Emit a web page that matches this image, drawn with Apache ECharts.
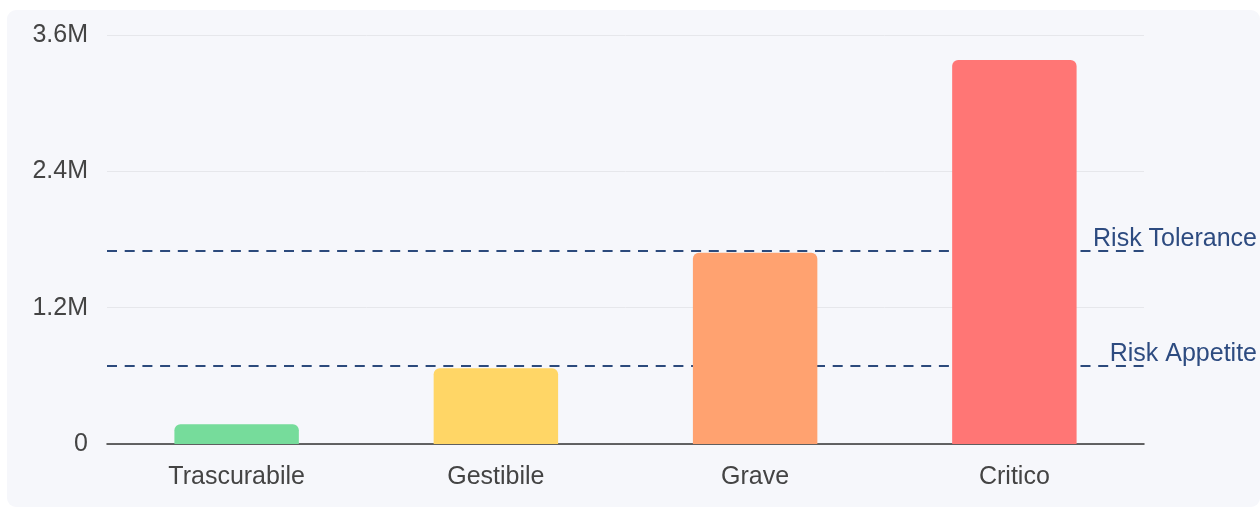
<!DOCTYPE html>
<html>
<head>
<meta charset="utf-8">
<script src="https://cdn.jsdelivr.net/npm/echarts@6/dist/echarts.min.js"></script>
<style>
  html, body { margin: 0; padding: 0; background: #ffffff; overflow: hidden; }
  #root {
    position: absolute; left: 7px; top: 10px;
    width: 1253px; height: 497px;
    background: #f6f7fb; border-radius: 9px;
  }
</style>
</head>
<body>
<div id="root"></div>
<script>
// livelli di rischio e valori
var categories = ['Trascurabile', 'Gestibile', 'Grave', 'Critico'];
var values = [173000, 666000, 1684000, 3380000];
var barColors = ['#76dc9b', '#ffd666', '#ffa270', '#ff7675'];
var thresholdNames = ['Risk Tolerance', 'Risk Appetite'];
var thresholdValues = [1700000, 687000];

var font = 'Liberation Sans, Arial, Helvetica, sans-serif';
var dom = document.getElementById('root');
var myChart = echarts.init(dom, null, { renderer: 'canvas' });

var option = {
  animation: false,
  grid: { left: 100, top: 25, width: 1037, height: 409, containLabel: false },
  xAxis: {
    type: 'category',
    data: categories,
    axisTick: { show: false },
    axisLine: { lineStyle: { color: '#333', width: 1.5 } },
    axisLabel: { color: '#444', fontSize: 25, fontFamily: font, margin: 21 }
  },
  yAxis: {
    type: 'value',
    min: 0,
    max: 3600000,
    interval: 1200000,
    axisLine: { show: false },
    axisTick: { show: false },
    splitLine: { lineStyle: { color: '#e6e7eb', width: 1 } },
    axisLabel: {
      color: '#444', fontSize: 25, fontFamily: font, margin: 19,
      formatter: function (v) { return v === 0 ? '0' : (v / 1e6) + 'M'; }
    }
  },
  series: [
    {
      type: 'bar',
      barWidth: '48%',
      z: 3,
      data: values.map(function (v, i) {
        return { value: v, itemStyle: { color: barColors[i], borderRadius: [6, 6, 0, 0] } };
      }),
      // soglie sotto le barre
      markLine: {
        z: 1,
        silent: true,
        symbol: 'none',
        lineStyle: { color: '#2c4a7c', width: 2, type: [10, 7.7] },
        label: {
          show: true,
          position: 'insideEndTop',
          formatter: '{b}',
          color: '#2d4b80',
          fontSize: 25,
          fontFamily: font,
          distance: -1,
          offset: [112, 0]
        },
        data: thresholdNames.map(function (n, i) {
          return { name: n, yAxis: thresholdValues[i] };
        })
      }
    }
  ]
};

myChart.setOption(option);
</script>
</body>
</html>
